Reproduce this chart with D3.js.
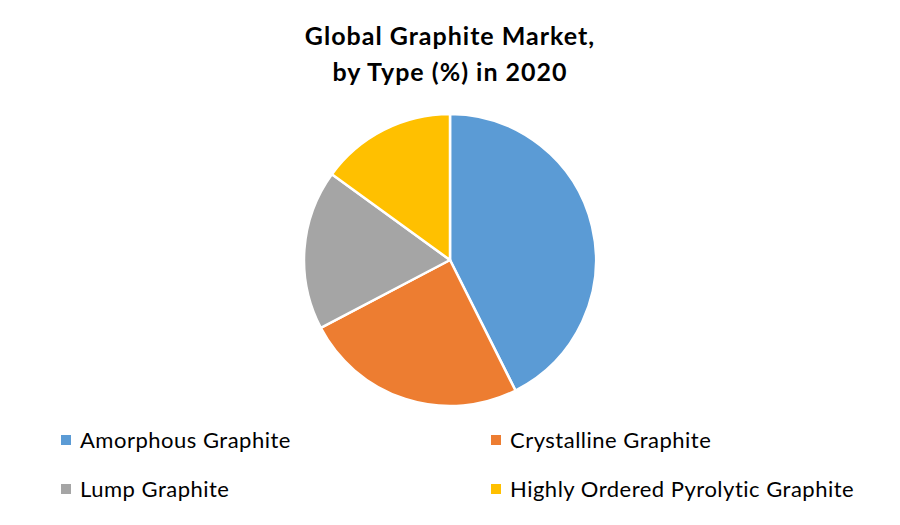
<!DOCTYPE html>
<html>
<head>
<meta charset="utf-8">
<script src="https://cdn.jsdelivr.net/npm/d3@7"></script>
<style>
  html, body { margin: 0; padding: 0; background: #fff; }
  svg { display: block; }
</style>
</head>
<body>
<svg id="chart" width="900" height="525"></svg>
<script>
const categories = ["Amorphous Graphite", "Crystalline Graphite", "Lump Graphite", "Highly Ordered Pyrolytic Graphite"];
const values = [42.6, 24.7, 17.7, 15.0];
const colors = ["#5B9BD5", "#ED7D31", "#A5A5A5", "#FFC000"];
const titleLines = ["Global Graphite Market,", "by Type (%) in 2020"];

const svg = d3.select("#chart");
const font = "Lato, 'Open Sans', sans-serif";

svg.append("rect").attr("width", 900).attr("height", 525).attr("fill", "#fff");

const title = svg.append("text")
  .attr("text-anchor", "middle")
  .attr("font-family", font)
  .attr("font-weight", "bold")
  .attr("font-size", 25)
  .attr("letter-spacing", 1.0)
  .attr("fill", "#000");
title.selectAll("tspan").data(titleLines).join("tspan")
  .attr("x", 450)
  .attr("y", (d, i) => 45 + i * 36)
  .text(d => d);

const cx = 450, cy = 260, r = 146;
const pie = d3.pie().sort(null).value(d => d.v);
const arc = d3.arc().innerRadius(0).outerRadius(r);
const data = categories.map((c, i) => ({ c, v: values[i], col: colors[i] }));

svg.append("g").attr("transform", `translate(${cx},${cy})`)
  .selectAll("path").data(pie(data)).join("path")
  .attr("d", arc)
  .attr("fill", d => d.data.col)
  .attr("stroke", "#fff")
  .attr("stroke-width", 2.5)
  .attr("stroke-linejoin", "round");

const legendX = [61, 491];
const legendY = [440, 489];
const lg = svg.append("g").selectAll("g").data(data).join("g")
  .attr("transform", (d, i) => `translate(${legendX[i % 2]},${legendY[Math.floor(i / 2)]})`);
lg.append("rect").attr("x", 0).attr("y", -5).attr("width", 10).attr("height", 10)
  .attr("fill", d => d.col);
lg.append("text").attr("x", 19).attr("y", 0).attr("dy", "0.35em")
  .attr("font-family", font).attr("font-size", 22).attr("letter-spacing", 0.5).attr("fill", "#000")
  .text(d => d.c);
</script>
</body>
</html>
